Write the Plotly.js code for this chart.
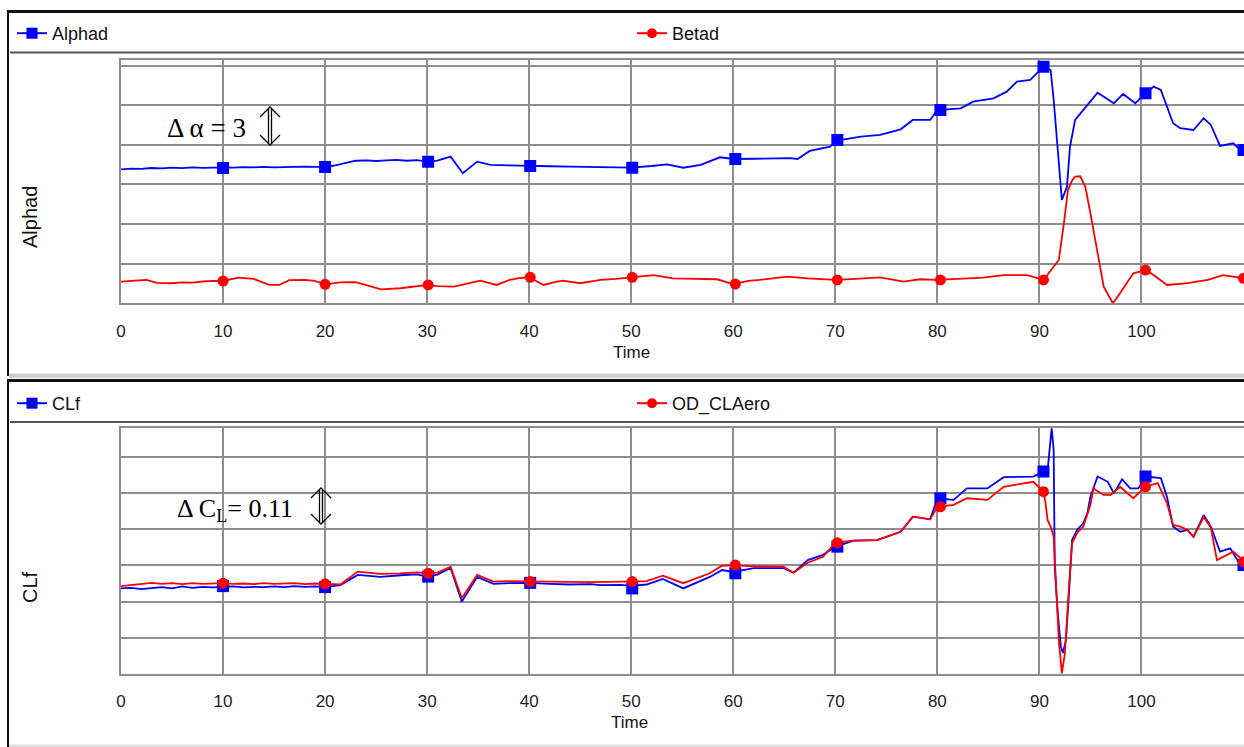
<!DOCTYPE html>
<html><head><meta charset="utf-8">
<script src="https://cdn.plot.ly/plotly-3.0.1.min.js"></script>
<style>html,body{margin:0;padding:0;background:#fff;overflow:hidden}#chart{width:1244px;height:747px}</style>
</head><body><div id="chart"></div>
<script>
// ---------- data ----------
const xTickVals = [0,10,20,30,40,50,60,70,80,90,100];
const xTickText = ['0','10','20','30','40','50','60','70','80','90','100'];

const timeAlphad = [0,1,2,3,4,5,6,7,8,9,10,11,12,13,14,15,16,17,18,19,20,21,22,23,24,25,26,27,28,29,30,31,32.3,33.5,34.9,36.2,38,40,42,44,46,48,50,52,53.5,55.1,56.8,58.7,60,62,64,65.6,66.3,67.5,69.5,70,72.5,74.4,76.4,77.6,79.3,80,82.3,83.5,85.5,86.8,87.8,89.1,90.4,91.1,91.4,91.7,92.1,92.2,92.7,93.0,93.5,94.3,95.7,97.3,98.2,99.4,100.4,101.2,101.9,103.1,103.8,105.1,106.1,106.8,107.7,109,109.7,110.1];
const alphad = [7.15,7.20,7.18,7.25,7.22,7.28,7.24,7.30,7.26,7.30,7.30,7.28,7.32,7.30,7.34,7.30,7.33,7.31,7.36,7.33,7.33,7.45,7.62,7.80,7.82,7.78,7.83,7.86,7.80,7.85,7.73,7.80,8.11,6.85,7.73,7.48,7.45,7.40,7.38,7.36,7.33,7.35,7.27,7.40,7.53,7.27,7.48,8.06,7.93,7.95,8.00,7.99,7.93,8.54,8.86,9.30,9.62,9.75,10.18,10.89,10.89,11.64,11.77,12.27,12.53,13.03,13.79,13.92,14.92,14.67,12.40,9.37,5.33,4.83,5.83,8.86,10.89,11.64,12.95,12.15,12.86,12.15,12.91,13.41,13.16,10.64,10.26,10.13,11.02,10.51,8.92,9.12,8.61,8.60];

const timeBetad = [0,1.5,2.5,3.5,5,6,7,8,9,10,11.5,13,14.5,15.5,16.5,18,19,20,21.5,23,24.5,25.5,27.4,29,30,31,32.6,35.2,36.8,38.1,39,40,41.4,42.5,43.3,45,47,48.5,50,52.2,54.1,56,58.4,60,61.5,62.6,64,65.3,67.3,70,72,74.4,76.7,78.3,80,82.5,84.5,86.5,88.8,90.4,91.4,91.9,92.4,92.8,93.2,93.5,94.0,94.5,95.0,95.7,96.3,97.2,97.9,99.2,100.4,101.2,102.5,104.5,106.5,108,110.1];
const betad = [-1.36,-1.30,-1.23,-1.45,-1.48,-1.42,-1.44,-1.35,-1.30,-1.31,-1.06,-1.15,-1.61,-1.61,-1.25,-1.23,-1.30,-1.56,-1.41,-1.40,-1.70,-1.94,-1.86,-1.70,-1.61,-1.70,-1.74,-1.29,-1.61,-1.23,-1.10,-1.03,-1.61,-1.40,-1.29,-1.48,-1.23,-1.15,-1.03,-0.86,-1.11,-1.15,-1.18,-1.54,-1.30,-1.23,-1.10,-0.98,-1.11,-1.23,-1.15,-1.03,-1.36,-1.18,-1.23,-1.15,-1.05,-0.86,-0.86,-1.23,-0.23,0.28,3.06,5.58,6.30,6.59,6.62,5.83,3.82,0.79,-1.74,-3.0,-2.24,-0.73,-0.48,-0.86,-1.61,-1.48,-1.23,-0.86,-1.11];

const markTime = [10,20,30.1,40.1,50.1,60.2,70.2,80.3,90.4,100.4,110];
const alphadMarks = [7.25,7.33,7.73,7.40,7.27,7.93,9.37,11.64,14.92,12.91,8.61];
const betadMarks = [-1.31,-1.56,-1.61,-1.03,-1.03,-1.54,-1.23,-1.23,-1.23,-0.48,-1.11];

const timeCLf = [0,1,2,3,4,5,6,7,8,9,10,11,12,13,14,15,16,17,18,19,20,21.5,23.2,25.4,27.4,29,30,31,32.3,33.4,34.9,36.5,38,40,42,44,46,47,49,50,51.5,53.1,55.1,57.7,58.9,60,62,64.9,65.9,67.3,68.8,70,71.8,74.1,76.4,77.6,79.3,80,81.6,82.9,84.9,86.5,89.4,90.4,90.8,91.1,91.2,91.4,91.5,91.8,92.1,92.3,92.6,92.9,93.2,93.7,94.3,94.7,95.0,95.7,96.7,97.3,98.1,98.9,99.7,100.4,101.9,102.5,103.1,103.8,104.5,105.1,106.1,106.8,107.7,108.7,109.7,110.1];
const clf = [0.460,0.462,0.458,0.461,0.464,0.460,0.466,0.462,0.465,0.463,0.464,0.466,0.463,0.465,0.464,0.466,0.464,0.467,0.465,0.466,0.464,0.470,0.501,0.495,0.500,0.503,0.496,0.502,0.522,0.420,0.495,0.474,0.476,0.477,0.474,0.472,0.473,0.470,0.471,0.468,0.472,0.489,0.460,0.495,0.516,0.510,0.522,0.522,0.508,0.546,0.562,0.587,0.605,0.607,0.632,0.678,0.670,0.734,0.729,0.764,0.764,0.798,0.800,0.815,0.817,0.921,0.947,0.881,0.526,0.385,0.283,0.264,0.303,0.446,0.607,0.638,0.658,0.688,0.739,0.800,0.784,0.749,0.792,0.764,0.764,0.800,0.795,0.739,0.648,0.632,0.638,0.617,0.683,0.648,0.572,0.582,0.531,0.525];

const timeCLAero = [0,1,2,3,4,5,6,7,8,9,10,11,12,13,14,15,16,17,18,19,20,21.5,23.2,25.4,27.4,29,30,31,32.3,33.4,34.9,36.5,38,40,42,44,46,48,50,51.5,53.1,55.1,57.7,58.9,60,62,64.9,65.9,67.3,68.8,70,71.8,74.1,76.4,77.6,79.3,80,81.6,82.9,84.9,86.5,89.4,90.4,90.6,90.8,91.1,91.4,91.7,91.9,92.2,92.5,92.9,93.2,93.7,94.3,95.0,95.3,96.3,97.0,97.9,99.2,100.4,101.6,102.5,103.1,103.8,104.5,105.1,106.1,106.8,107.4,109,110.1];
const odClAero = [0.467,0.470,0.473,0.477,0.474,0.476,0.473,0.476,0.474,0.475,0.476,0.474,0.475,0.473,0.476,0.474,0.475,0.476,0.473,0.475,0.474,0.472,0.511,0.504,0.506,0.509,0.506,0.508,0.526,0.430,0.501,0.481,0.482,0.481,0.480,0.481,0.479,0.480,0.481,0.482,0.499,0.476,0.506,0.529,0.531,0.527,0.526,0.508,0.538,0.556,0.599,0.605,0.607,0.632,0.678,0.670,0.708,0.714,0.734,0.729,0.769,0.784,0.754,0.719,0.668,0.648,0.617,0.435,0.303,0.202,0.263,0.465,0.597,0.629,0.648,0.714,0.764,0.744,0.744,0.769,0.734,0.769,0.780,0.719,0.653,0.648,0.638,0.617,0.677,0.645,0.546,0.572,0.541];

const clfMarks = [0.467,0.464,0.496,0.477,0.460,0.506,0.587,0.734,0.815,0.800,0.531];
const clAeroMarks = [0.476,0.474,0.506,0.481,0.481,0.531,0.599,0.708,0.754,0.769,0.541];

// ---------- layout helpers ----------
const W = 1244, H = 747;
const px = v => v / W;
const py = v => 1 - v / H;
const BLUE = '#0000ff', RED = '#ff0000', GRID = '#8e8e8e';
const SANS = 'Liberation Sans, Arial, sans-serif';

function lineTrace(x, y, color, xa, ya) {
  return {x, y, xaxis: xa, yaxis: ya, type: 'scatter', mode: 'lines', showlegend: false,
    line: {color, width: 1.8}, hoverinfo: 'skip'};
}
function markTrace(x, y, color, sym, size, xa, ya) {
  return {x, y, xaxis: xa, yaxis: ya, type: 'scatter', mode: 'markers', showlegend: false,
    marker: {color, symbol: sym, size, line: {width: 0}}, hoverinfo: 'skip'};
}
function legendTrace(name, color, sym, leg) {
  return {x: [null], y: [null], type: 'scatter', mode: 'lines+markers', name, legend: leg,
    line: {color, width: 2}, marker: {color, symbol: sym, size: sym === 'square' ? 11 : 10}};
}

const data = [
  lineTrace(timeAlphad, alphad, BLUE, 'x', 'y'),
  markTrace(markTime, alphadMarks, BLUE, 'square', 12, 'x', 'y'),
  lineTrace(timeBetad, betad, RED, 'x', 'y'),
  markTrace(markTime, betadMarks, RED, 'circle', 11, 'x', 'y'),
  lineTrace(timeCLf, clf, BLUE, 'x2', 'y2'),
  markTrace(markTime, clfMarks, BLUE, 'square', 12, 'x2', 'y2'),
  lineTrace(timeCLAero, odClAero, RED, 'x2', 'y2'),
  markTrace(markTime, clAeroMarks, RED, 'circle', 11, 'x2', 'y2'),
  legendTrace('Alphad', BLUE, 'square', 'legend'),
  legendTrace('Betad', RED, 'circle', 'legend2'),
  legendTrace('CLf', BLUE, 'square', 'legend3'),
  legendTrace('OD_CLAero', RED, 'circle', 'legend4')
];

const xCommon = {
  range: [0, 110.05], tickvals: xTickVals, ticktext: xTickText,
  showgrid: true, gridcolor: GRID, gridwidth: 2, zeroline: false,
  showline: true, mirror: true, linecolor: GRID, linewidth: 2,
  ticks: 'outside', ticklen: 11, tickcolor: 'rgba(0,0,0,0)',
  tickfont: {family: SANS, size: 17, color: '#222'}, fixedrange: true
};
const yCommon = {
  showgrid: true, gridcolor: GRID, gridwidth: 2, zeroline: false,
  showline: true, mirror: true, linecolor: GRID, linewidth: 2,
  showticklabels: false, ticks: '', fixedrange: true
};

function leg(xPix, yPix) {
  return {orientation: 'h', xanchor: 'left', yanchor: 'top', bgcolor: 'rgba(0,0,0,0)',
    font: {family: SANS, size: 18, color: '#111'}, itemwidth: 30, borderwidth: 0,
    x: px(xPix), y: py(yPix)};
}

function seg(x0, y0, x1, y1, color, width) {
  return {type: 'line', xref: 'paper', yref: 'paper', x0: px(x0), y0: py(y0), x1: px(x1), y1: py(y1),
    line: {color, width}, layer: 'above'};
}
function dblArrow(cx, top, bot, arm, half) {
  const p = (x, y) => px(x) + ',' + py(y);
  const path = 'M' + p(cx - 1.5, top + 2) + 'L' + p(cx - 1.5, bot - 2) +
    'M' + p(cx + 1.5, top + 2) + 'L' + p(cx + 1.5, bot - 2) +
    'M' + p(cx - half, top + arm) + 'L' + p(cx, top) + 'L' + p(cx + half, top + arm) +
    'M' + p(cx - half, bot - arm) + 'L' + p(cx, bot) + 'L' + p(cx + half, bot - arm);
  return {type: 'path', xref: 'paper', yref: 'paper', path, line: {color: '#000', width: 1.3}, layer: 'above'};
}

const layout = {
  width: W, height: H, margin: {l: 0, r: 0, t: 0, b: 0},
  paper_bgcolor: '#ffffff', plot_bgcolor: '#ffffff', showlegend: true,
  xaxis: Object.assign({}, xCommon, {domain: [px(121), 1], anchor: 'y'}),
  yaxis: Object.assign({}, yCommon, {domain: [py(303.3), py(60)], range: [-3, 15.43], tick0: -3, dtick: 3, anchor: 'x'}),
  xaxis2: Object.assign({}, xCommon, {domain: [px(121), 1], anchor: 'y2'}),
  yaxis2: Object.assign({}, yCommon, {domain: [py(674), py(428.3)], range: [0.2, 0.9466], tick0: 0.2, dtick: 0.11, anchor: 'x2'}),
  legend: leg(12, 15),
  legend2: leg(632, 15),
  legend3: leg(12, 385),
  legend4: leg(632, 385),
  annotations: [
    {text: 'Alphad', xref: 'paper', yref: 'paper', x: px(30), y: py(217), textangle: -90, showarrow: false,
      xanchor: 'center', yanchor: 'middle', font: {family: SANS, size: 20, color: '#111'}},
    {text: 'CLf', xref: 'paper', yref: 'paper', x: px(30), y: py(587), textangle: -90, showarrow: false,
      xanchor: 'center', yanchor: 'middle', font: {family: SANS, size: 20, color: '#111'}},
    {text: 'Time', xref: 'paper', yref: 'paper', x: px(631), y: py(352), showarrow: false,
      xanchor: 'center', yanchor: 'middle', font: {family: SANS, size: 17, color: '#111'}},
    {text: 'Time', xref: 'paper', yref: 'paper', x: px(629), y: py(722), showarrow: false,
      xanchor: 'center', yanchor: 'middle', font: {family: SANS, size: 17, color: '#111'}},
    {text: '\u0394 \u03b1 = 3', xref: 'paper', yref: 'paper', x: px(165), y: py(128), showarrow: false,
      xanchor: 'left', yanchor: 'middle', font: {family: 'Liberation Serif, Times New Roman, serif', size: 27, color: '#000'}},
    {text: '\u0394 C<sub>L</sub>= 0.11', xref: 'paper', yref: 'paper', x: px(175), y: py(510), showarrow: false,
      xanchor: 'left', yanchor: 'middle', font: {family: 'Liberation Serif, Times New Roman, serif', size: 26, color: '#000'}}
  ],
  shapes: [
    // top panel frame
    seg(8, 11.5, 1244, 11.5, '#111', 3),
    seg(8, 10, 8, 376, '#111', 2),
    seg(10, 52.5, 1244, 52.5, '#555', 2),
    {type: 'rect', xref: 'paper', yref: 'paper', x0: px(9), x1: 1, y0: py(378), y1: py(373.5),
      fillcolor: '#cfcfcf', line: {width: 0}, layer: 'above'},
    // bottom panel frame
    seg(8, 380.5, 1244, 380.5, '#111', 3),
    seg(8, 379, 8, 747, '#111', 2),
    seg(10, 422, 1244, 422, '#555', 2),
    seg(9, 745.5, 1244, 745.5, '#d6d6d6', 2),
    // annotation arrows
    dblArrow(270, 107, 145, 10, 10),
    dblArrow(321, 488, 524, 10, 10)
  ]
};

Plotly.newPlot('chart', data, layout, {staticPlot: true, displayModeBar: false});
</script>
</body></html>
